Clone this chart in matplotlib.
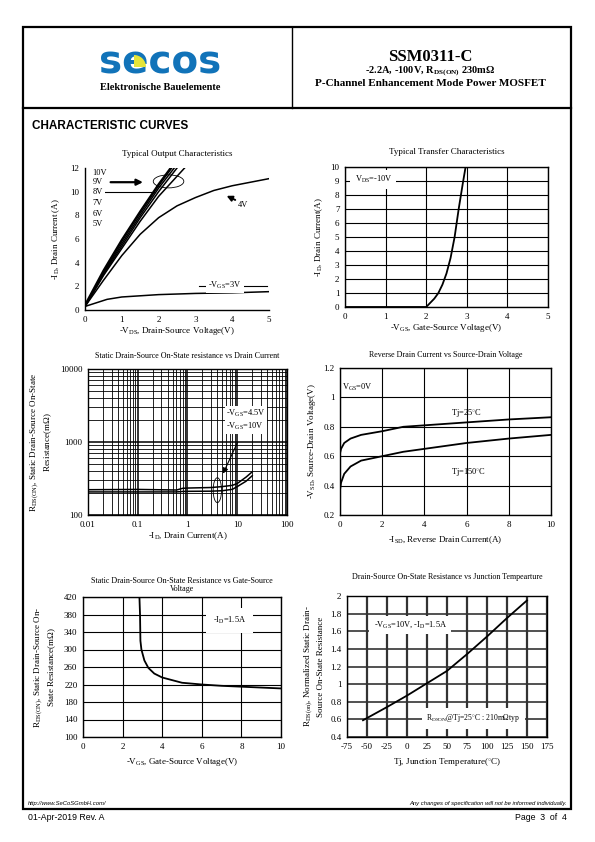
import numpy as np
import matplotlib
matplotlib.use("Agg")
import matplotlib.pyplot as plt
from matplotlib.patches import Ellipse, Rectangle, Wedge
from matplotlib.lines import Line2D

plt.rcParams['font.family'] = ['Liberation Serif', 'DejaVu Serif']
plt.rcParams['mathtext.fontset'] = 'custom'
plt.rcParams['mathtext.rm'] = 'Liberation Serif'
plt.rcParams['mathtext.it'] = 'Liberation Serif:italic'
plt.rcParams['mathtext.bf'] = 'Liberation Serif:bold'
plt.rcParams['axes.unicode_minus'] = False

# ---- data ----
# 1. typical output characteristics (-VDS vs -ID)
vds = [0, 0.5, 1, 1.5, 2, 2.5, 3]
id_10v = [0.3, 3.2, 5.8, 8.2, 10.5, 12.6, 14.5]
id_8v = [0.3, 3.1, 5.6, 8.0, 10.3, 12.3, 14.2]
id_6v = [0.3, 3.0, 5.4, 7.8, 10.0, 12.0, 13.8]
id_5v = [0.3, 2.9, 5.2, 7.5, 9.6, 11.3, 13.0]
vds_4v = [0, 0.5, 1, 1.5, 2, 2.5, 3, 3.5, 4, 4.5, 5]
id_4v = [0.3, 2.5, 4.6, 6.4, 7.8, 8.8, 9.5, 10.1, 10.5, 10.8, 11.1]
vds_3v = [0, 0.3, 0.6, 1, 1.5, 2, 3, 4, 5]
id_3v = [0.3, 0.6, 0.9, 1.1, 1.2, 1.3, 1.4, 1.45, 1.55]
vgs_labels = ['10V', '9V', '8V', '7V', '6V', '5V']

# 2. transfer characteristics
vgs_t = [0, 1, 2.0, 2.1, 2.2, 2.3, 2.4, 2.5, 2.6, 2.7, 2.8, 2.9, 2.97]
id_t = [0, 0, 0, 0.3, 0.6, 1.0, 1.6, 2.4, 3.5, 5.0, 7.0, 8.8, 10]

# 3. RDS(on) vs drain current (log-log)
id_r = [0.01, 0.1, 0.6, 0.8, 1, 3, 5, 8, 10, 15, 20]
r_45v = [222, 224, 220, 232, 234, 238, 245, 255, 270, 330, 390]
r_10v = [207, 207, 207, 210, 211, 212, 215, 225, 245, 290, 345]

# 4. reverse drain current vs source-drain voltage
isd = [0, 0.05, 0.2, 0.5, 1, 2, 3, 4, 6, 8, 10]
vsd_25 = [0.62, 0.65, 0.69, 0.72, 0.745, 0.77, 0.80, 0.81, 0.83, 0.85, 0.865]
vsd_150 = [0.37, 0.42, 0.48, 0.53, 0.57, 0.60, 0.63, 0.65, 0.69, 0.72, 0.745]

# 5. RDS(on) vs gate-source voltage
vgs_r = [2.85, 2.88, 2.9, 2.95, 3.1, 3.3, 3.6, 4, 4.5, 5, 6, 7, 8, 9, 10]
r_vgs = [420, 380, 320, 300, 275, 258, 245, 236, 230, 224, 220, 217, 215, 213, 211]

# 6. normalized RDS(on) vs junction temperature
tj = [-55, -25, 0, 25, 50, 75, 100, 125, 150]
r_norm = [0.59, 0.74, 0.87, 1.01, 1.15, 1.34, 1.54, 1.75, 1.95]

W, H = 595, 842
fig = plt.figure(figsize=(W / 100, H / 100), dpi=100)


def px_axes(x0, y0, x1, y1):
    return fig.add_axes([x0 / W, (H - y1) / H, (x1 - x0) / W, (y1 - y0) / H])


def ftext(x, y, s, **kw):
    fig.text(x / W, (H - y) / H, s, **kw)


def fline(x0, y0, x1, y1, lw=1.0):
    fig.add_artist(Line2D([x0 / W, x1 / W], [(H - y0) / H, (H - y1) / H],
                          color='black', lw=lw, transform=fig.transFigure))


def style(ax, grid=True):
    ax.tick_params(labelsize=6.5, length=0, pad=4)
    if grid:
        ax.grid(True, color='black', lw=0.8)
    for s in ax.spines.values():
        s.set_linewidth(1.0)


FS = 6.5
box = dict(facecolor='white', edgecolor='none', pad=1.5)

# ---- page frame and header ----
fig.add_artist(Rectangle((23 / W, (H - 809) / H), (571 - 23) / W, (809 - 27) / H,
                         fill=False, lw=1.6, edgecolor='black', transform=fig.transFigure))
fline(23, 108, 571, 108, lw=1.6)
fline(292, 27, 292, 108, lw=1.0)

ftext(160, 63, 'secos', ha='center', va='center', fontsize=28, fontweight='bold',
      color='#1173b9', family='DejaVu Sans')
# yellow quarter on the logo's "e"
fig.add_artist(Wedge((134 / 100, (H - 67) / 100), 0.12, 0, 90, facecolor='#e4e43a',
                     edgecolor='none', transform=fig.dpi_scale_trans, zorder=5))
ftext(160, 87, 'Elektronische Bauelemente', ha='center', va='center', fontsize=7.5,
      fontweight='bold')
ftext(430, 57, 'SSM0311-C', ha='center', va='center', fontsize=12, fontweight='bold')
ftext(430, 71, r'-2.2A, -100V, $\mathbf{R_{DS(ON)}}$ 230m$\mathbf{\Omega}$',
      ha='center', va='center', fontsize=7.5, fontweight='bold')
ftext(430, 83, 'P-Channel Enhancement Mode Power MOSFET', ha='center', va='center',
      fontsize=8, fontweight='bold')
ftext(32, 126, 'CHARACTERISTIC CURVES', ha='left', va='center', fontsize=8.5,
      fontweight='bold', family='Liberation Sans')

# ---- footer ----
ftext(28, 803, 'http://www.SeCoSGmbH.com/', fontsize=4.2, style='italic',
      family='Liberation Sans', va='center')
ftext(567, 803, 'Any changes of specification will not be informed individually.',
      fontsize=4.2, style='italic', family='Liberation Sans', va='center', ha='right')
ftext(28, 818, '01-Apr-2019 Rev. A', fontsize=6.3, family='Liberation Sans', va='center')
ftext(567, 818, 'Page  3  of  4', fontsize=6.3, family='Liberation Sans', va='center',
      ha='right')

# ---- chart 1: output characteristics ----
ax = px_axes(85, 168, 269, 310)
style(ax, grid=False)
ax.spines['top'].set_visible(False)
ax.spines['right'].set_visible(False)
ax.plot([0.45, 1.9], [10, 10], color='black', lw=0.8)
ax.plot([3.1, 4.95], [2, 2], color='black', lw=0.8)
for y in (id_10v, id_8v, id_6v, id_5v):
    ax.plot(vds, y, color='black', lw=1.1)
ax.plot(vds, np.array(id_10v) + 0.15, color='black', lw=1.3)
ax.plot(vds_4v, id_4v, color='black', lw=1.1)
ax.plot(vds_3v, id_3v, color='black', lw=1.1)
ax.set_xlim(0, 5)
ax.set_ylim(0, 12)
ax.set_xticks(range(0, 6))
ax.set_yticks(range(0, 13, 2))
for lab, y in zip(vgs_labels, [11.6, 10.8, 9.95, 9.05, 8.15, 7.25]):
    ax.text(0.2, y, lab, fontsize=6, va='center', ha='left', bbox=box)
ax.annotate('', xy=(1.65, 10.8), xytext=(0.62, 10.8),
            arrowprops=dict(arrowstyle='-|>', color='black', lw=1.6, mutation_scale=9))
ax.add_patch(Ellipse((2.27, 10.87), 0.83, 1.1, fill=False, edgecolor='black', lw=0.6))
ax.annotate('', xy=(3.78, 9.75), xytext=(4.15, 9.2),
            arrowprops=dict(arrowstyle='-|>', color='black', lw=1.4, mutation_scale=8))
ax.text(4.3, 8.9, '4V', fontsize=6, va='center', ha='center')
ax.text(3.8, 2.1, r'-V$_{\mathregular{GS}}$=3V', fontsize=6, va='center', ha='center',
        bbox=box)
ax.set_title('Typical Output Characteristics', fontsize=FS, pad=9)
ax.set_xlabel(r'-V$_{\mathregular{DS}}$, Drain-Source Voltage(V)', fontsize=FS, labelpad=1)
ax.set_ylabel(r'-I$_{\mathregular{D}}$, Drain Current (A)', fontsize=FS, labelpad=6)

# ---- chart 2: transfer characteristics ----
ax = px_axes(345, 167, 548, 307)
style(ax)
ax.plot(vgs_t, id_t, color='black', lw=1.3)
ax.set_xlim(0, 5)
ax.set_ylim(0, 10)
ax.set_xticks(range(0, 6))
ax.set_yticks(range(0, 11))
ax.text(0.7, 9.1, r'V$_{\mathregular{DS}}$=-10V', fontsize=6, va='center', ha='center',
        bbox=dict(facecolor='white', edgecolor='none', pad=3))
ax.set_title('Typical Transfer Characteristics', fontsize=FS, pad=9)
ax.set_xlabel(r'-V$_{\mathregular{GS}}$, Gate-Source Voltage(V)', fontsize=FS, labelpad=1)
ax.set_ylabel(r'-I$_{\mathregular{D}}$, Drain Current(A)', fontsize=FS, labelpad=4)

# ---- chart 3: RDS(on) vs drain current ----
ax = px_axes(88, 369, 287, 515)
style(ax, grid=False)
ax.set_xscale('log')
ax.set_yscale('log')
ax.set_xlim(0.01, 100)
ax.set_ylim(100, 10000)
ax.grid(True, which='major', color='black', lw=1.1)
ax.grid(True, which='minor', color='black', lw=0.6)
ax.tick_params(which='minor', length=0)
ax.plot(id_r, r_45v, color='black', lw=1.1)
ax.plot(id_r, r_10v, color='black', lw=1.1)
ax.set_xticks([0.01, 0.1, 1, 10, 100])
ax.set_xticklabels(['0.01', '0.1', '1', '10', '100'])
ax.set_yticks([100, 1000, 10000])
ax.set_yticklabels(['100', '1000', '10000'])
ax.text(6.0, 2000, r'-V$_{\mathregular{GS}}$=4.5V' + '\n' + r'-V$_{\mathregular{GS}}$=10V',
        fontsize=6, va='center', ha='left', linespacing=1.3,
        bbox=dict(facecolor='white', edgecolor='none', pad=1))
ax.annotate('', xy=(4.9, 340), xytext=(10.7, 1070),
            arrowprops=dict(arrowstyle='-|>', color='black', lw=0.8, mutation_scale=8))
ax.add_patch(Ellipse((0.65, 0.17), 0.042, 0.17, transform=ax.transAxes, fill=False,
                     edgecolor='black', lw=0.6))
ax.set_title('Static Drain-Source On-State resistance vs Drain Current', fontsize=5.8, pad=8)
ax.set_xlabel(r'-I$_{\mathregular{D}}$, Drain Current(A)', fontsize=FS, labelpad=1)
ax.set_ylabel(r'R$_{\mathregular{DS(ON)}}$, Static Drain-Source On-State' + '\n' +
              r'Resistance(m$\Omega$)', fontsize=FS, labelpad=4)

# ---- chart 4: reverse drain current vs source-drain voltage ----
ax = px_axes(340, 368, 551, 515)
style(ax)
ax.plot(isd, vsd_25, color='black', lw=1.3)
ax.plot(isd, vsd_150, color='black', lw=1.3)
ax.set_xlim(0, 10)
ax.set_ylim(0.2, 1.2)
ax.set_xticks(range(0, 11, 2))
ax.set_yticks([0.2, 0.4, 0.6, 0.8, 1.0, 1.2])
ax.set_yticklabels(['0.2', '0.4', '0.6', '0.8', '1', '1.2'])
ax.text(0.8, 1.065, r'V$_{\mathregular{GS}}$=0V', fontsize=6, va='center', ha='center')
ax.text(6.0, 0.893, 'Tj=25$^{\\circ}$C', fontsize=6, va='center', ha='center')
ax.text(6.1, 0.495, 'Tj=150$^{\\circ}$C', fontsize=6, va='center', ha='center')
ax.set_title('Reverse Drain Current vs Source-Drain Voltage', fontsize=5.8, pad=8)
ax.set_xlabel(r'-I$_{\mathregular{SD}}$, Reverse Drain Current(A)', fontsize=FS, labelpad=4)
ax.set_ylabel(r'-V$_{\mathregular{SD}}$, Source-Drain Voltage(V)', fontsize=FS, labelpad=4)

# ---- chart 5: RDS(on) vs gate-source voltage ----
ax = px_axes(83, 597, 281, 737)
style(ax)
ax.plot(vgs_r, r_vgs, color='black', lw=1.3)
ax.set_xlim(0, 10)
ax.set_ylim(100, 420)
ax.set_xticks(range(0, 11, 2))
ax.set_yticks(range(100, 421, 40))
ax.text(7.4, 366, r'-I$_{\mathregular{D}}$=1.5A', fontsize=6, va='center', ha='center',
        bbox=dict(facecolor='white', edgecolor='none', pad=5))
ax.set_title('Static Drain-Source On-State Resistance vs Gate-Source\nVoltage',
             fontsize=5.8, pad=4, linespacing=1.1)
ax.set_xlabel(r'-V$_{\mathregular{GS}}$, Gate-Source Voltage(V)', fontsize=FS, labelpad=4)
ax.set_ylabel(r'R$_{\mathregular{DS(ON)}}$, Static Drain-Source On-' + '\n' +
              r'State Resistance(m$\Omega$)', fontsize=FS, labelpad=4)

# ---- chart 6: normalized RDS(on) vs junction temperature ----
ax = px_axes(347, 596, 547, 737)
style(ax, grid=False)
ax.grid(True, axis='x', color='#333333', lw=1.6)
ax.grid(True, axis='y', color='#333333', lw=1.2)
ax.plot(tj, r_norm, color='black', lw=1.3)
ax.set_xlim(-75, 175)
ax.set_ylim(0.4, 2.0)
ax.set_xticks(range(-75, 176, 25))
ax.set_yticks([0.4, 0.6, 0.8, 1.0, 1.2, 1.4, 1.6, 1.8, 2.0])
ax.set_yticklabels(['0.4', '0.6', '0.8', '1', '1.2', '1.4', '1.6', '1.8', '2'])
ax.text(4, 1.67, r'-V$_{\mathregular{GS}}$=10V, -I$_{\mathregular{D}}$=1.5A', fontsize=6,
        va='center', ha='center', bbox=dict(facecolor='white', edgecolor='none', pad=3))
ax.text(83, 0.61, r'R$_{\mathregular{DSON}}$@Tj=25$^{\circ}$C : 210m$\Omega$typ',
        fontsize=5.5, va='center', ha='center',
        bbox=dict(facecolor='white', edgecolor='none', pad=3))
ax.set_title('Drain-Source On-State Resistance vs Junction Tempearture', fontsize=5.8, pad=12)
ax.set_xlabel(r'Tj, Junction Temperature($^{\circ}$C)', fontsize=FS, labelpad=4)
ax.set_ylabel(r'R$_{\mathregular{DS(on)}}$, Normalized Static Drain-' + '\n' +
              'Source On-State Resistance', fontsize=FS, labelpad=4)

fig.savefig('out.png', dpi=100)
